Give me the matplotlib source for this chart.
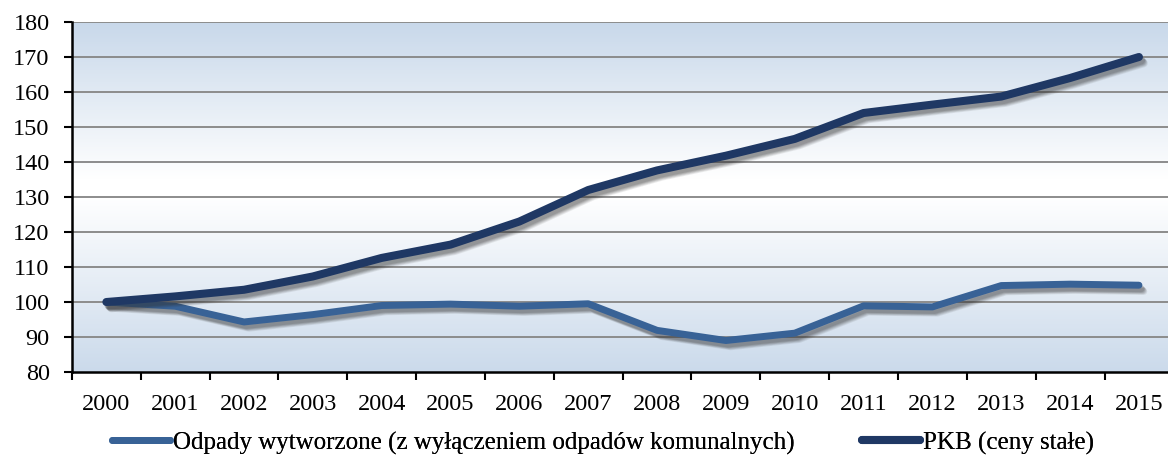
import numpy as np
import matplotlib
matplotlib.use('Agg')
import matplotlib.pyplot as plt
import matplotlib.patheffects as pe
from matplotlib.colors import LinearSegmentedColormap
from matplotlib.lines import Line2D

years = ['2000', '2001', '2002', '2003', '2004', '2005', '2006', '2007',
         '2008', '2009', '2010', '2011', '2012', '2013', '2014', '2015']
odpady = [100, 98.8, 94.3, 96.4, 99.0, 99.4, 98.8, 99.5,
          91.9, 89.0, 91.1, 98.9, 98.6, 104.7, 105.1, 104.8]
pkb = [100, 101.6, 103.5, 107.3, 112.6, 116.4, 123.0, 132.0,
       137.6, 141.8, 146.6, 154.0, 156.4, 158.7, 164.0, 170.0]
labels = ['Odpady wytworzone (z wyłączeniem odpadów komunalnych)', 'PKB (ceny stałe)']
colors = ['#386296', '#1f3864']

plt.rcParams['font.family'] = ['Liberation Serif', 'DejaVu Serif']
fs = 17.5

fig = plt.figure(figsize=(11.68, 4.67), dpi=100)
ax = fig.add_axes([0.0616, 0.2034, 0.943, 0.7495])

ymin, ymax = 80, 180
x = np.arange(len(years))
ax.set_xlim(-0.5, len(years) - 0.5)
ax.set_ylim(ymin, ymax)

# background gradient: blue at top and bottom, white in the middle
cmap = LinearSegmentedColormap.from_list(
    'bg', [(0, '#cbdaeb'), (0.5, '#ffffff'), (0.55, '#ffffff'), (1, '#c8d8ea')])
grad = np.linspace(0, 1, 256).reshape(-1, 1)
ax.imshow(grad, aspect='auto', cmap=cmap, origin='lower',
          extent=(-0.5, len(years) - 0.5, ymin, ymax), zorder=0)

for v in range(90, 181, 10):
    ax.axhline(v, color='#8c8c8c', lw=1.4, zorder=1)


def shadow():
    fx = []
    for off, a in [((3.5, -4.5), 0.09), ((3, -4), 0.11), ((2.5, -3.5), 0.13), ((2, -3), 0.15), ((1.5, -2.5), 0.15)]:
        fx.append(pe.SimpleLineShadow(offset=off, shadow_color='#333333', alpha=a))
    fx.append(pe.Normal())
    return fx


ax.plot(x, odpady, color=colors[0], lw=5.0, solid_capstyle='round',
        solid_joinstyle='round', path_effects=shadow(), zorder=3)
ax.plot(x, pkb, color=colors[1], lw=5.8, solid_capstyle='round',
        solid_joinstyle='round', path_effects=shadow(), zorder=4)

ax.set_xticks(x)
ax.set_xticklabels(years)
ax.set_xticks(np.arange(-0.5, len(years), 1), minor=True)
ax.tick_params(axis='x', which='major', length=0, pad=16, labelsize=fs)
ax.tick_params(axis='x', which='minor', length=6, width=1.5, direction='out')
ax.set_yticks(range(80, 181, 10))
ax.tick_params(axis='y', length=6, width=1.5, pad=10, labelsize=fs)

for s in ['top', 'right']:
    ax.spines[s].set_visible(False)
for s in ['left', 'bottom']:
    ax.spines[s].set_linewidth(1.8)
    ax.spines[s].set_color('black')
    ax.spines[s].set_zorder(5)

# legend: two entries at fixed spots
anchors = [(112 / 1168, 1 - 443 / 467), (862 / 1168, 1 - 443 / 467)]
lws = [5.0, 5.8]
for lab, c, lw, (ax_, ay) in zip(labels, colors, lws, anchors):
    h = Line2D([], [], color=c, lw=lw, solid_capstyle='round')
    leg = fig.legend([h], [lab], loc='center left', bbox_to_anchor=(ax_, ay),
                     frameon=False, fontsize=18, handlelength=2.3,
                     handletextpad=0.15, borderpad=0, borderaxespad=0)
    fig.add_artist(leg)

fig.savefig('out.png', dpi=100)
